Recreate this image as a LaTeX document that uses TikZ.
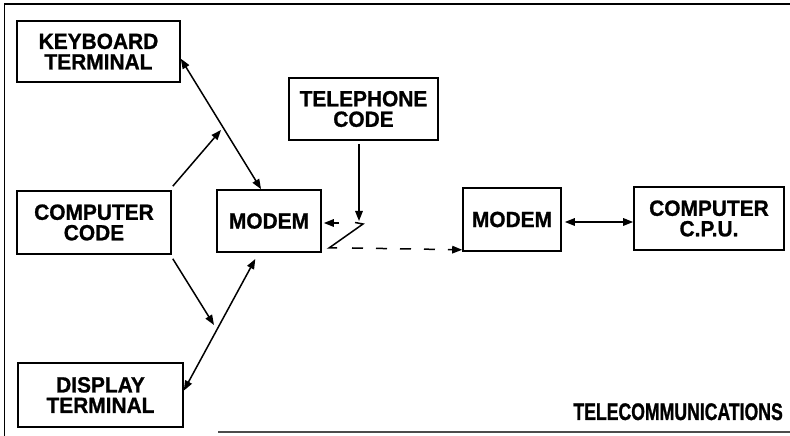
\documentclass[tikz,border=0pt]{standalone}
\usepackage{fontspec}
\usetikzlibrary{arrows.meta,calc}
\newfontfamily\boxfont[FakeStretch=0.95,FakeBold=1]{Liberation Sans}
\newfontfamily\titlefont[FakeStretch=0.735,FakeBold=1]{Liberation Sans}
\tikzset{
  blk/.style={draw, line width=1.6pt, inner sep=0pt, align=center,
    font=\boxfont\bfseries\fontsize{22}{20.5}\selectfont},
  link/.style={line width=1.5pt, -{Triangle[length=10pt,width=7.5pt]}},
  link2/.style={line width=1.5pt, {Triangle[length=10pt,width=7.5pt]}-{Triangle[length=10pt,width=7.5pt]}},
  frame/.style={line width=1.5pt}
}
\begin{document}
\begin{tikzpicture}[x=1pt,y=1pt]
\useasboundingbox (0,0) rectangle (790,436);
% outer frame: top, left and bottom rules
\draw[frame] (4,432) -- (790,432);
\draw[frame] (4.5,432) -- (4.5,0);
\draw[frame, black!70] (218,4) -- (790,4);

% boxes
\node[blk, minimum width=163pt, minimum height=61pt] (kb)   at (98.5,384.5) {KEYBOARD\\TERMINAL};
\node[blk, minimum width=149pt, minimum height=62pt] (tel)  at (363.5,327)  {TELEPHONE\\CODE};
\node[blk, minimum width=154pt, minimum height=63pt] (cc)   at (94,213.5)   {COMPUTER\\CODE};
\node[blk, minimum width=104pt, minimum height=62pt] (m1)   at (269,215)    {MODEM};
\node[blk, minimum width=98pt,  minimum height=63pt] (m2)   at (512,216.5)  {MODEM};
\node[blk, minimum width=150pt, minimum height=63pt] (cpu)  at (709,217.5)  {COMPUTER\\C.P.U.};
\node[blk, minimum width=165pt, minimum height=64pt] (disp) at (100.5,41)   {DISPLAY\\TERMINAL};

\node[anchor=base east, inner sep=0pt, font=\titlefont\bfseries\fontsize{24}{24}\selectfont]
  (title) at (783,16) {TELECOMMUNICATIONS};

% free ends of the two outputs of the computer code
\coordinate (ccup) at (221,306);
\coordinate (ccdn) at (214,111);

% switch symbol below the telephone code
\coordinate (swtop) at (359,215);
\coordinate (swa) at (355,213.5);
\coordinate (swb) at (363,212);
\coordinate (swc) at (329,188);
\coordinate (swd) at (337,188);
\coordinate (swl) at (339,213);
\coordinate (swdash) at (352,188);
\draw[line width=1.5pt] (swa) -- (swb) -- (swc) -- (swd);

% connectors
\draw[link2] (kb.-5) -- (m1.104);
\draw[link] ($(cc.north east)+(1,4)$) -- (ccup);
\draw[link] ($(cc.south east)+(1,-4)$) -- (ccdn);
\draw[link2, shorten >=7pt] (disp.3) -- (m1.252);
\draw[link, shorten <=3pt] ($(tel.south)+(-4.5,0)$) -- (swtop);
\draw[link, shorten >=2pt] (swl) -- (swl -| m1.east);
\draw[link, dash pattern=on 11pt off 13pt] (swdash) -- ($(m2.south west)+(0,2)$);
\draw[link2, shorten <=3pt] ([yshift=-2.5pt]m2.east) -- ([yshift=-2.5pt]m2.east -| cpu.west);
\end{tikzpicture}
\end{document}
